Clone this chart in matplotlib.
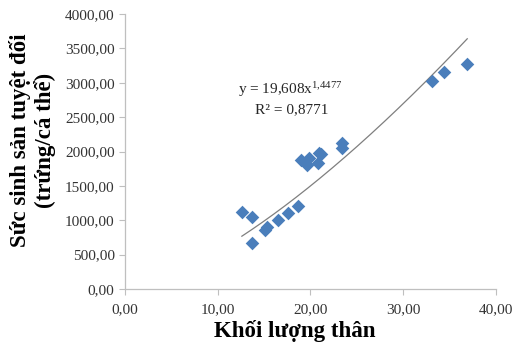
import numpy as np
import matplotlib
matplotlib.use("Agg")
import matplotlib.pyplot as plt
from matplotlib.ticker import FuncFormatter

# Data
mass = [12.6, 13.7, 13.7, 15.1, 15.3, 16.5, 17.6, 18.6, 19.0, 19.6, 19.8, 20.85, 20.95, 21.1, 23.45, 23.45, 33.1, 34.4, 36.9]
fecundity = [1124, 1043, 665, 858, 897, 1003, 1110, 1207, 1876, 1804, 1901, 1828, 1983, 1963, 2128, 2046, 3025, 3150, 3270]
coef_a = 19.608
coef_b = 1.4477
r2_text = "R² = 0,8771"
x_ticks = [0, 10, 20, 30, 40]
y_ticks = [0, 500, 1000, 1500, 2000, 2500, 3000, 3500, 4000]

plt.rcParams['font.family'] = ['Liberation Serif', 'DejaVu Serif']
plt.rcParams['mathtext.fontset'] = 'custom'
plt.rcParams['mathtext.rm'] = 'Liberation Serif'
plt.rcParams['mathtext.it'] = 'Liberation Serif'

fig = plt.figure(figsize=(5.18, 3.49), dpi=100)
ax = fig.add_axes([0.2413, 0.1719, 0.7162, 0.7880])

ax.scatter(mass, fecundity, marker='D', s=48, color='#4A7EBB', zorder=3, linewidths=0)

xf = np.linspace(min(mass), max(mass), 200)
ax.plot(xf, coef_a * xf ** coef_b, color='#7F7F7F', lw=0.9, zorder=2)

ax.set_xlim(0, 40)
ax.set_ylim(0, 4000)
ax.set_xticks(x_ticks)
ax.set_yticks(y_ticks)
fmt = FuncFormatter(lambda v, p: f"{v:.2f}".replace('.', ','))
ax.xaxis.set_major_formatter(fmt)
ax.yaxis.set_major_formatter(fmt)

for s in ['top', 'right']:
    ax.spines[s].set_visible(False)
for s in ['left', 'bottom']:
    ax.spines[s].set_color('#BFBFBF')
    ax.spines[s].set_linewidth(0.9)
ax.tick_params(axis='both', colors='#BFBFBF', labelcolor='#333333', labelsize=11, length=4, direction='out')
ax.tick_params(axis='x', pad=6)

fig.text(295 / 518, 1 - 331 / 349, "Khối lượng thân", fontsize=16.5, fontweight='bold',
         ha='center', va='center')
fig.text(20 / 518, 1 - 140 / 349, "Sức sinh sản tuyệt đối", fontsize=16.5, fontweight='bold',
         ha='center', va='center', rotation=90)
fig.text(45 / 518, 1 - 140 / 349, "(trứng/cá thể)", fontsize=16.5, fontweight='bold',
         ha='center', va='center', rotation=90)

ax.text(0.305, 0.724, r"y = 19,608x$^{1{,}4477}$", transform=ax.transAxes, ha='left', va='center',
        fontsize=11, color='#262626')
ax.text(0.350, 0.651, r2_text, transform=ax.transAxes, ha='left', va='center', fontsize=11, color='#262626')

fig.savefig("out.png", dpi=100)
